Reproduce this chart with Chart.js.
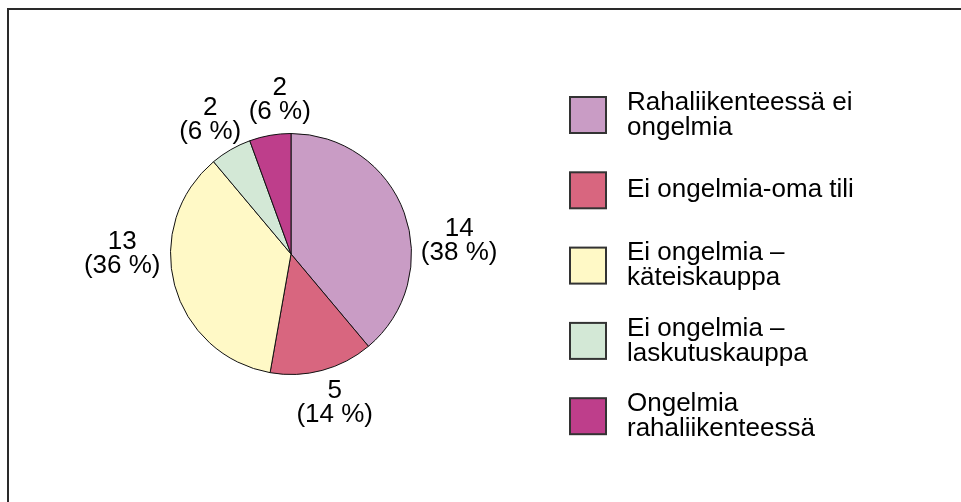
<!DOCTYPE html>
<html>
<head>
<meta charset="utf-8">
<script src="https://cdn.jsdelivr.net/npm/chart.js@4.4.1/dist/chart.umd.min.js"></script>
<style>
  html, body { margin: 0; padding: 0; background: #fff; }
  #wrap { position: relative; width: 961px; height: 502px; overflow: hidden; }
  #frame { position: absolute; left: 7px; top: 8px; right: -10px; bottom: -10px;
           border-top: 2px solid #2a2a2a; border-left: 2px solid #2a2a2a; }
  #chart { position: absolute; left: 0; top: 0; }
</style>
</head>
<body>
<div id="wrap">
  <div id="frame"></div>
  <canvas id="chart" width="961" height="502"></canvas>
</div>
<script>
// ---- Data ----
const categories = [
  ['Rahaliikenteessä ei', 'ongelmia'],
  ['Ei ongelmia-oma tili'],
  ['Ei ongelmia –', 'käteiskauppa'],
  ['Ei ongelmia –', 'laskutuskauppa'],
  ['Ongelmia', 'rahaliikenteessä']
];
const counts = [14, 5, 13, 2, 2];
const percents = [38, 14, 36, 6, 6];
const colors = ['#C99CC5', '#D8667F', '#FFF9C6', '#D3E8D6', '#BE3E8B'];

const FONT = '26px "Liberation Sans", Arial, sans-serif';

// Data labels outside the slices ("14 / (38 %)")
const sliceLabels = {
  id: 'sliceLabels',
  afterDatasetsDraw(chart, args, opts) {
    const ctx = chart.ctx;
    const arcs = chart.getDatasetMeta(0).data;
    ctx.save();
    ctx.font = FONT;
    ctx.fillStyle = '#000';
    ctx.textAlign = 'center';
    ctx.textBaseline = 'middle';
    arcs.forEach((arc, i) => {
      const lines = [String(counts[i]), '(' + percents[i] + ' %)'];
      const w = Math.max(...lines.map(l => ctx.measureText(l).width));
      const h = lines.length * opts.lineHeight;
      // angle measured clockwise from 12 o'clock
      let deg = opts.angles[i];
      if (deg == null) {
        const mid = (arc.startAngle + arc.endAngle) / 2;
        deg = (mid + Math.PI / 2) * 180 / Math.PI;
      }
      const t = deg * Math.PI / 180;
      const sx = Math.sin(t), cy = -Math.cos(t);
      const r = arc.outerRadius + opts.gap;
      const cx = arc.x + sx * r + sx * w / 2;
      const cyy = arc.y + cy * r + cy * h / 2;
      lines.forEach((l, k) => {
        ctx.fillText(l, cx, cyy - h / 2 + opts.lineHeight * (k + 0.5));
      });
    });
    ctx.restore();
  }
};

// Legend on the right with framed colour boxes
const sideLegend = {
  id: 'sideLegend',
  afterDraw(chart, args, opts) {
    const ctx = chart.ctx;
    const ds = chart.data.datasets[0];
    ctx.save();
    ctx.font = FONT;
    ctx.textAlign = 'left';
    ctx.textBaseline = 'middle';
    chart.data.labels.forEach((lines, i) => {
      const top = opts.top + i * opts.step;
      ctx.fillStyle = ds.backgroundColor[i];
      ctx.fillRect(opts.left, top, opts.box, opts.box);
      ctx.strokeStyle = '#333';
      ctx.lineWidth = 2;
      ctx.strokeRect(opts.left, top, opts.box, opts.box);
      ctx.fillStyle = '#000';
      const mid = top + opts.box / 2;
      const h = lines.length * opts.lineHeight;
      lines.forEach((l, k) => {
        ctx.fillText(l, opts.textX, mid - h / 2 + opts.lineHeight * (k + 0.5));
      });
    });
    ctx.restore();
  }
};

new Chart(document.getElementById('chart').getContext('2d'), {
  type: 'pie',
  data: {
    labels: categories,
    datasets: [{
      data: counts,
      backgroundColor: colors,
      borderColor: '#111',
      borderWidth: 1
    }]
  },
  options: {
    responsive: false,
    animation: false,
    layout: { padding: { left: 170, top: 133, right: 549, bottom: 127 } },
    plugins: {
      legend: { display: false },
      tooltip: { enabled: false },
      sliceLabels: { angles: [85, null, 270, null, 356], gap: 10, lineHeight: 24 },
      sideLegend: { left: 570, top: 97, step: 75.3, box: 36, textX: 627, lineHeight: 25 }
    }
  },
  plugins: [sliceLabels, sideLegend]
});
</script>
</body>
</html>
